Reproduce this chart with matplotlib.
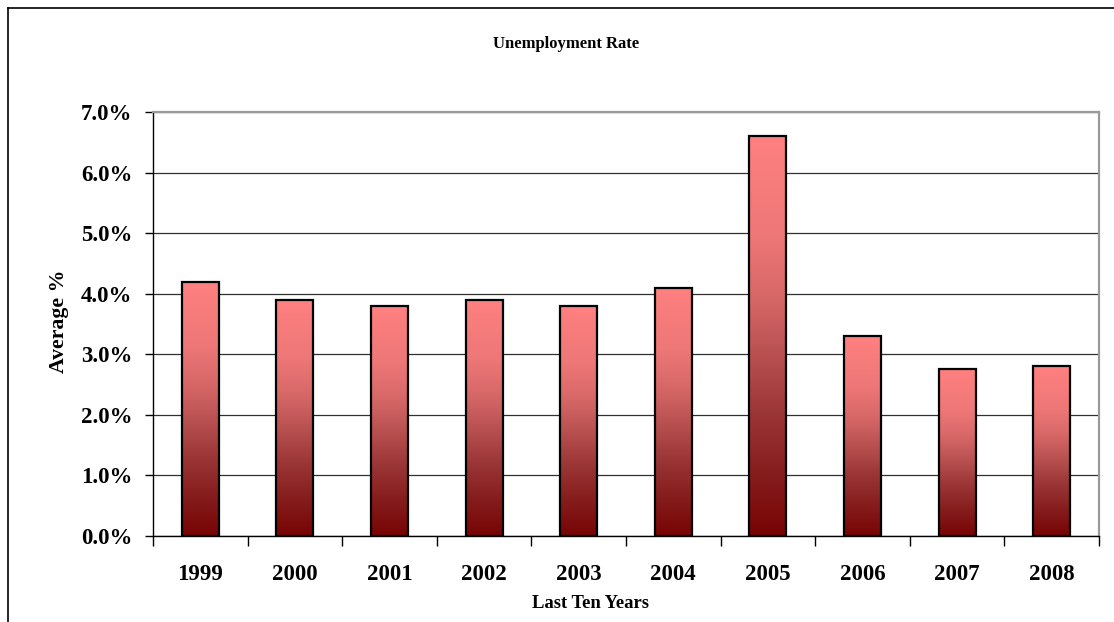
import matplotlib
matplotlib.use("Agg")
import matplotlib.pyplot as plt
import numpy as np
from matplotlib.colors import LinearSegmentedColormap
from matplotlib.lines import Line2D
from matplotlib.ticker import FixedLocator, FuncFormatter

years = ["1999", "2000", "2001", "2002", "2003", "2004", "2005", "2006", "2007", "2008"]
rates = [4.2, 3.9, 3.8, 3.9, 3.8, 4.1, 6.6, 3.3, 2.75, 2.8]
y_ticks = [0, 1, 2, 3, 4, 5, 6, 7]
title = "Unemployment Rate"
xlabel = "Last Ten Years"
ylabel = "Average %"

plt.rcParams['font.family'] = ['Liberation Serif', 'DejaVu Serif']
plt.rcParams['font.weight'] = 'bold'

fig = plt.figure(figsize=(11.14, 6.22), dpi=100)
ax = fig.add_axes([153/1114, 1 - 536/622, (1099-153)/1114, (536-112)/622])

x = np.arange(len(years))
bars = ax.bar(x, rates, width=0.39, facecolor='none', edgecolor='black', linewidth=1.6, zorder=4)

cmap = LinearSegmentedColormap.from_list("grad", [
    (0.0, "#780404"), (0.15, "#851c1c"), (0.3, "#9a3535"), (0.45, "#b85050"),
    (0.6, "#d86868"), (0.75, "#ee7777"), (1.0, "#ff8080")])
grad = np.linspace(0, 1, 256).reshape(-1, 1)
for rect in bars:
    x0 = rect.get_x(); w = rect.get_width(); h = rect.get_height()
    im = ax.imshow(grad, cmap=cmap, origin='lower', aspect='auto',
                   extent=[x0, x0 + w, 0, h], zorder=3, interpolation='bilinear')
    im.set_clip_path(rect)

ax.set_xlim(-0.5, len(years) - 0.5)
ax.set_ylim(0, 7)

ax.yaxis.set_major_locator(FixedLocator(y_ticks))
ax.yaxis.set_major_formatter(FuncFormatter(lambda v, p: f"{v:.1f}%"))
ax.grid(axis='y', color='#303030', linewidth=0.9, zorder=1)
ax.set_axisbelow(True)

ax.set_xticks(np.arange(-0.5, len(years), 1.0))
ax.set_xticklabels([])
ax.set_xticks(x, minor=True)
ax.set_xticklabels(years, minor=True, fontsize=16.5, fontweight='bold')
ax.tick_params(axis='x', which='major', direction='out', length=7, width=1, color='black')
ax.tick_params(axis='x', which='minor', length=0, pad=20)
ax.tick_params(axis='y', direction='out', length=6, width=1, pad=9, labelsize=16.5)
for lab in ax.get_yticklabels():
    lab.set_fontweight('bold')

for s in ['left', 'bottom']:
    ax.spines[s].set_color('black')
    ax.spines[s].set_linewidth(1.0)
for s in ['top', 'right']:
    ax.spines[s].set_color('#9a9a9a')
    ax.spines[s].set_linewidth(1.6)

fig.text(566/1114, 1 - 44/622, title, ha='center', va='center', fontsize=12, fontweight='bold')
fig.text(590.5/1114, 1 - 603/622, xlabel, ha='center', va='center', fontsize=13.4, fontweight='bold')
fig.text(59/1114, 1 - 321/622, ylabel, ha='center', va='center', rotation=90, fontsize=15.7, fontweight='bold')

# outer chart border (extends beyond the image on right and bottom)
fig.add_artist(Line2D([7.5/1114, 7.5/1114], [0, 1 - 8/622], transform=fig.transFigure, color='black', linewidth=1.2))
fig.add_artist(Line2D([7.5/1114, 1], [1 - 8/622, 1 - 8/622], transform=fig.transFigure, color='black', linewidth=1.2))

fig.savefig("out.png", dpi=100)
